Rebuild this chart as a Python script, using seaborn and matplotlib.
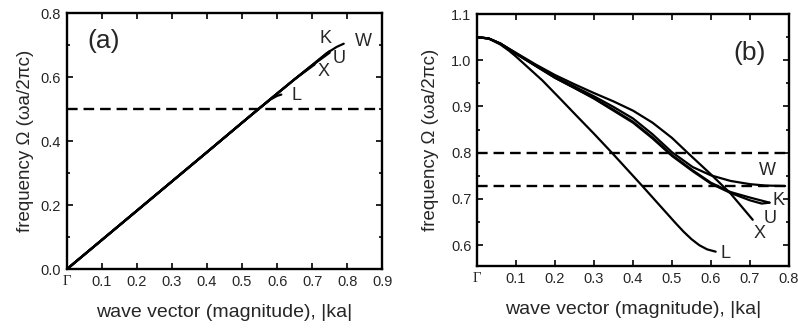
import numpy as np
import pandas as pd
import seaborn as sns
import matplotlib
matplotlib.use("Agg")
import matplotlib.pyplot as plt
from matplotlib.ticker import MultipleLocator

sns.set_theme(style="ticks")
plt.rcParams['font.family'] = ['Liberation Sans', 'DejaVu Sans']

# ---------------- panel (a) data ----------------
a_L_x = [0.0, 0.1, 0.2, 0.3, 0.4, 0.5, 0.546, 0.58, 0.60, 0.612]
a_L_y = [0.0, 0.0915, 0.183, 0.2745, 0.366, 0.458, 0.500, 0.530, 0.542, 0.546]
a_X_x = [0.0, 0.1, 0.2, 0.3, 0.4, 0.5, 0.546, 0.60, 0.65, 0.707]
a_X_y = [0.0, 0.0915, 0.183, 0.2745, 0.366, 0.458, 0.500, 0.549, 0.594, 0.640]
a_U_x = [0.0, 0.1, 0.2, 0.3, 0.4, 0.5, 0.546, 0.60, 0.65, 0.70, 0.75]
a_U_y = [0.0, 0.0915, 0.183, 0.2745, 0.366, 0.458, 0.500, 0.549, 0.594, 0.637, 0.677]
a_K_x = [0.0, 0.1, 0.2, 0.3, 0.4, 0.5, 0.546, 0.60, 0.65, 0.70, 0.75]
a_K_y = [0.0, 0.0915, 0.183, 0.2745, 0.366, 0.458, 0.500, 0.549, 0.594, 0.638, 0.682]
a_W_x = [0.0, 0.1, 0.2, 0.3, 0.4, 0.5, 0.546, 0.60, 0.65, 0.70, 0.741, 0.77, 0.79]
a_W_y = [0.0, 0.0915, 0.183, 0.2745, 0.366, 0.458, 0.500, 0.549, 0.594, 0.638, 0.675, 0.695, 0.705]
a_dashed = [0.5]

# ---------------- panel (b) data ----------------
b_L_x = [0.0, 0.03, 0.06, 0.083, 0.10, 0.168, 0.213, 0.254, 0.30, 0.348, 0.425,
         0.51, 0.53, 0.55, 0.57, 0.59, 0.612]
b_L_y = [1.05, 1.047, 1.034, 1.020, 1.008, 0.956, 0.917, 0.881, 0.841, 0.798, 0.727,
         0.647, 0.629, 0.613, 0.600, 0.591, 0.586]
b_X_x = [0.0, 0.03, 0.06, 0.10, 0.15, 0.20, 0.25, 0.30, 0.35, 0.40, 0.45, 0.50, 0.54, 0.60, 0.65, 0.707]
b_X_y = [1.05, 1.047, 1.036, 1.016, 0.991, 0.968, 0.948, 0.929, 0.911, 0.891, 0.865, 0.832, 0.800, 0.753, 0.712, 0.655]
b_K_x = [0.0, 0.03, 0.06, 0.10, 0.15, 0.20, 0.25, 0.30, 0.35, 0.40, 0.45, 0.50, 0.553, 0.60, 0.65, 0.70, 0.75]
b_K_y = [1.05, 1.047, 1.036, 1.014, 0.988, 0.962, 0.940, 0.918, 0.893, 0.867, 0.833, 0.795, 0.762, 0.735, 0.715, 0.703, 0.692]
b_U_x = [0.0, 0.03, 0.06, 0.10, 0.15, 0.20, 0.25, 0.30, 0.35, 0.40, 0.45, 0.50, 0.553, 0.60, 0.65, 0.70, 0.73, 0.75]
b_U_y = [1.05, 1.047, 1.036, 1.014, 0.988, 0.962, 0.940, 0.917, 0.891, 0.865, 0.831, 0.793, 0.760, 0.733, 0.713, 0.697, 0.690, 0.692]
b_W_x = [0.0, 0.03, 0.06, 0.10, 0.15, 0.20, 0.25, 0.30, 0.35, 0.40, 0.45, 0.50, 0.553, 0.60, 0.65, 0.70, 0.74, 0.79]
b_W_y = [1.05, 1.047, 1.036, 1.015, 0.989, 0.964, 0.943, 0.922, 0.899, 0.874, 0.840, 0.801, 0.769, 0.751, 0.739, 0.732, 0.729, 0.728]
b_dashed = [0.8, 0.727]

x_ticks_a = [0.0, 0.1, 0.2, 0.3, 0.4, 0.5, 0.6, 0.7, 0.8, 0.9]
x_ticks_b = [0.0, 0.1, 0.2, 0.3, 0.4, 0.5, 0.6, 0.7, 0.8]
y_ticks_a = [0.0, 0.2, 0.4, 0.6, 0.8]
y_ticks_b = [0.6, 0.7, 0.8, 0.9, 1.0, 1.1]

labels_a = {"K": (0.737, 0.722), "W": (0.845, 0.712), "U": (0.778, 0.658),
            "X": (0.733, 0.618), "L": (0.655, 0.542)}
labels_b = {"W": (0.745, 0.762), "K": (0.773, 0.697), "U": (0.751, 0.658),
            "X": (0.724, 0.625), "L": (0.636, 0.582)}

fig = plt.figure(figsize=(7.98, 3.28), dpi=100)
axA = fig.add_axes([66.7/798, 1-269.3/328, (382.3-66.7)/798, (269.3-13.3)/328])
axB = fig.add_axes([477/798, 1-266/328, (789-477)/798, (266-14)/328])

lw = 1.6
for xs, ys in [(a_L_x, a_L_y), (a_X_x, a_X_y), (a_U_x, a_U_y), (a_K_x, a_K_y), (a_W_x, a_W_y)]:
    sns.lineplot(x=xs, y=ys, ax=axA, color="black", lw=lw, sort=False, estimator=None)
for xs, ys in [(b_L_x, b_L_y), (b_X_x, b_X_y), (b_K_x, b_K_y), (b_U_x, b_U_y), (b_W_x, b_W_y)]:
    sns.lineplot(x=xs, y=ys, ax=axB, color="black", lw=lw, sort=False, estimator=None)

for lvl in a_dashed:
    axA.axhline(lvl, color="black", lw=1.7, linestyle=(0, (4.5, 2.5)))
for lvl in b_dashed:
    axB.axhline(lvl, color="black", lw=1.7, linestyle=(0, (4.5, 2.5)))

axA.set_xlim(0, 0.9)
axA.set_ylim(0, 0.8)
axB.set_xlim(0, 0.8)
axB.set_ylim(0.555, 1.1)

for ax, xt, yt, ylp in [(axA, x_ticks_a, y_ticks_a, 5), (axB, x_ticks_b, y_ticks_b, 9)]:
    ax.set_xticks(xt)
    ax.set_xticklabels(["Γ"] + [f"{v:.1f}" for v in xt[1:]])
    ax.set_yticks(yt)
    ax.set_yticklabels([f"{v:.1f}" for v in yt])
    ax.xaxis.get_ticklabels()[0].set_fontfamily(['Liberation Serif'])
    ax.tick_params(which="both", direction="in", top=True, right=True, labelsize=10.5,
                   width=1.2, color="black", pad=4)
    ax.tick_params(which="major", length=4)
    ax.tick_params(which="minor", length=2.5)
    for s in ax.spines.values():
        s.set_linewidth(1.7)
        s.set_color("black")
    ax.set_xlabel("wave vector (magnitude), |ka|", fontsize=14, labelpad=11)
    ax.set_ylabel("frequency Ω (ωa/2πc)", fontsize=13.5, labelpad=ylp)
    ax.set_facecolor("white")

axA.yaxis.set_minor_locator(MultipleLocator(0.1))
axB.yaxis.set_minor_locator(MultipleLocator(0.05))

axA.text(0.105, 0.712, "(a)", fontsize=19, ha="center", va="center")
axB.text(0.698, 1.015, "(b)", fontsize=19, ha="center", va="center")
for k, (x, y) in labels_a.items():
    axA.text(x, y, k, fontsize=13, ha="center", va="center")
for k, (x, y) in labels_b.items():
    axB.text(x, y, k, fontsize=13, ha="center", va="center")

fig.savefig("out.png", dpi=100, facecolor="white")
